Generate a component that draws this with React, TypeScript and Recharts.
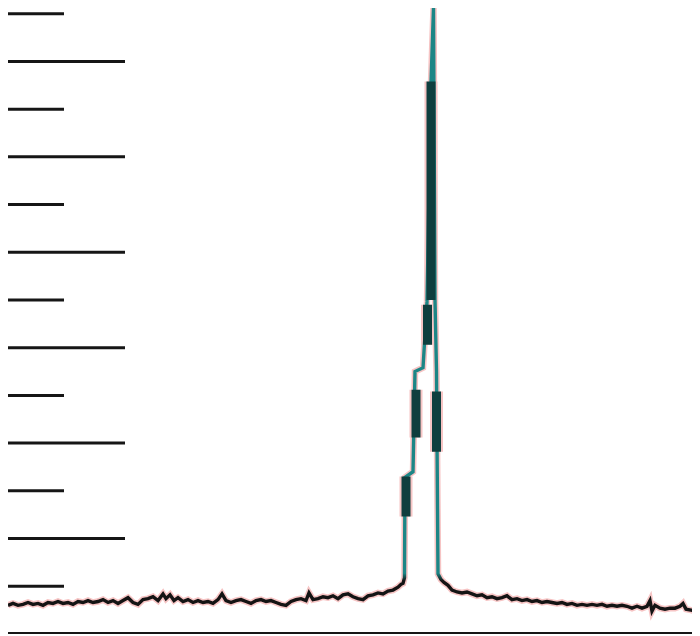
import React from "react";
import { LineChart, Line, XAxis, YAxis, ReferenceLine } from "recharts";

// Channel positions and intensities of the spectrum trace
const baseLeftX = [0,5,10,15,20,25,30,35,40,45,50,55,60,65,70,75,80,85,90,95,100,105,110,115,120,125,130,135,140,145,150,155,158,162,166,170,175,180,185,190,195,200,205,210,214,218,223,228,233,238,243,248,253,258,263,268,273,278,283,288,293,298,301,305,310,315,320,325,330,335,340,345,350,355,360,365,370,375,380,385,390,393];
const baseLeftV = [-20,-18,-20,-19,-17,-19,-18,-20,-17,-18,-16,-18,-17,-19,-16,-17,-15,-17,-16,-14,-17,-15,-18,-15,-12,-17,-19,-14,-13,-11,-15,-8,-13,-9,-15,-12,-16,-14,-17,-15,-17,-16,-18,-14,-8,-15,-17,-15,-14,-16,-18,-15,-14,-16,-15,-17,-19,-20,-16,-14,-13,-15,-7,-14,-13,-11,-12,-10,-13,-9,-8,-11,-13,-14,-10,-9,-7,-8,-5,-4,-1,2];

const peakX = [395,396.5,397,405,407,415,419,423,425.5,427,428.5,430];
const peakV = [3,9,114,120,225,229,298,527,606,300,225,13];

const baseRightX = [433,436,440,444,449,454,459,464,469,474,479,484,489,494,499,504,509,514,519,524,529,534,539,544,549,554,559,564,569,574,579,584,589,594,599,604,609,614,619,624,629,634,639,642,644,647,652,657,662,667,672,675,678,683,687,690,692];
const baseRightV = [7,4,1,-4,-6,-7,-6,-8,-10,-9,-12,-11,-13,-12,-10,-14,-13,-15,-14,-16,-15,-17,-16,-17,-18,-17,-19,-18,-20,-19,-20,-19,-20,-19,-21,-20,-21,-20,-21,-23,-21,-23,-21,-15,-26,-20,-23,-24,-23,-23,-21,-18,-24,-25,-26,-27,-28];

// Heavy strokes on the peak flanks (pairs of start/end intensities)
const heavyX = [398, 408, 419.5, 423, 428.5];
const heavyFrom = [73, 156, 253, 300, 141];
const heavyTo = [115, 206, 295, 529, 204];

// Left scale marks: value and whether it is a major (long) mark
const scaleTicks = [0,50,100,150,200,250,300,350,400,450,500,550,600];
const scaleMajor = [false,true,false,true,false,true,false,true,false,true,false,true,false];
const MAJOR_LEN = 117;
const MINOR_LEN = 56;

const mainData = [
  ...baseLeftX.map((x, i) => ({ x, v: baseLeftV[i] })),
  ...peakX.map((x, i) => ({ x, v: peakV[i] })),
  ...baseRightX.map((x, i) => ({ x, v: baseRightV[i] })),
];

const heavyData: { x: number; v: number | null }[] = [];
heavyX.forEach((x, i) => {
  heavyData.push({ x, v: heavyFrom[i] });
  heavyData.push({ x, v: heavyTo[i] });
  heavyData.push({ x, v: null });
});

export default function App() {
  return (
    <LineChart width={692} height={628} margin={{ top: 0, right: 0, bottom: 0, left: 0 }}>
      <defs>
        <linearGradient id="mainStroke" gradientUnits="userSpaceOnUse" x1="0" y1="0" x2="0" y2="628">
          <stop offset="0" stopColor="#1c8686" />
          <stop offset="0.9" stopColor="#1c8686" />
          <stop offset="0.912" stopColor="#141414" />
          <stop offset="1" stopColor="#141414" />
        </linearGradient>
      </defs>
      <XAxis
        type="number"
        dataKey="x"
        domain={[0, 692]}
        allowDataOverflow
        height={3}
        tick={false}
        tickLine={false}
        axisLine={{ stroke: "#161616", strokeWidth: 2 }}
      />
      <YAxis type="number" domain={[-49, 606]} allowDataOverflow hide />
      {scaleTicks.map((t, i) => (
        <ReferenceLine
          key={t}
          segment={[{ x: 0, y: t }, { x: scaleMajor[i] ? MAJOR_LEN : MINOR_LEN, y: t }]}
          stroke="#161616"
          strokeWidth={3}
          ifOverflow="visible"
        />
      ))}
      <Line
        data={mainData}
        dataKey="v"
        type="linear"
        stroke="#f6c4c4"
        strokeWidth={6.5}
        dot={false}
        isAnimationActive={false}
      />
      <Line
        data={heavyData}
        dataKey="v"
        type="linear"
        stroke="#f6c4c4"
        strokeWidth={13}
        strokeLinecap="butt"
        dot={false}
        connectNulls={false}
        isAnimationActive={false}
      />
      <Line
        data={mainData}
        dataKey="v"
        type="linear"
        stroke="url(#mainStroke)"
        strokeWidth={3.4}
        dot={false}
        isAnimationActive={false}
      />
      <Line
        data={heavyData}
        dataKey="v"
        type="linear"
        stroke="#0f3e3e"
        strokeWidth={9}
        strokeLinecap="butt"
        dot={false}
        connectNulls={false}
        isAnimationActive={false}
      />
    </LineChart>
  );
}
